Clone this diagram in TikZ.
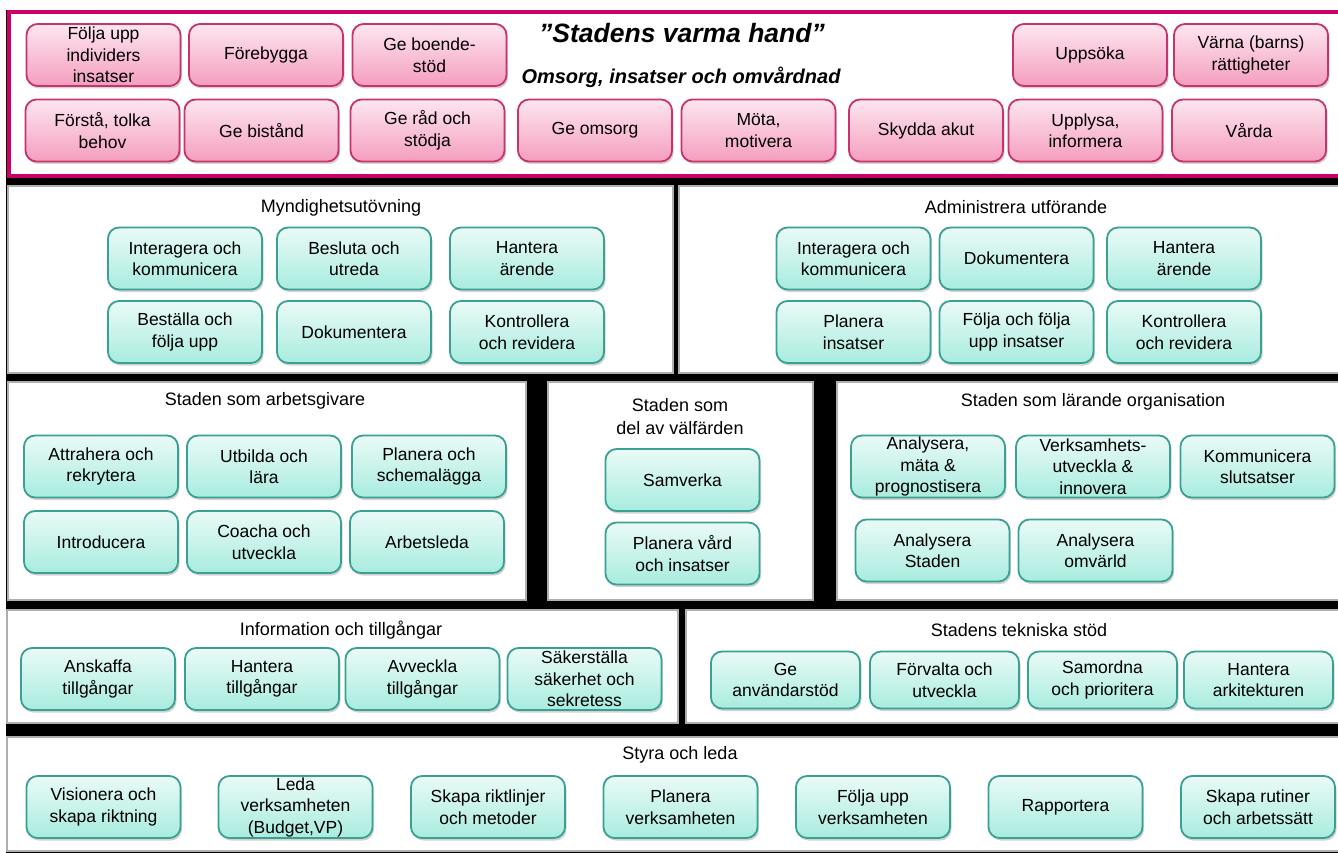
\documentclass[tikz,border=0pt]{standalone}
\usepackage{fontspec}
\setmainfont{Liberation Sans}
\usetikzlibrary{shadows}
\definecolor{stadmagenta}{RGB}{204,0,102}
\definecolor{pinkline}{RGB}{200,50,110}
\definecolor{pinktop}{RGB}{253,230,239}
\definecolor{pinkbot}{RGB}{244,158,190}
\definecolor{tealline}{RGB}{58,160,148}
\definecolor{tealtop}{RGB}{234,250,246}
\definecolor{tealbot}{RGB}{168,236,223}
\definecolor{panelgray}{RGB}{175,175,175}
\newcommand{\boxfont}{\fontsize{17.5}{21.5}\selectfont}
\begin{document}
\begin{tikzpicture}[x=1pt, y=-1pt,
  box/.style={line width=1.8pt, rounded corners=11pt, minimum width=154pt, minimum height=62pt,
    inner sep=0pt, align=center, font=\boxfont,
    drop shadow={shadow xshift=1.5pt, shadow yshift=-2.5pt, opacity=0.35}},
  pinkbox/.style={box, draw=pinkline, top color=pinktop, bottom color=pinkbot},
  tealbox/.style={box, draw=tealline, top color=tealtop, bottom color=tealbot},
  panel/.style={draw=panelgray, line width=2.5pt, fill=white},
  paneltitle/.style={align=center, font=\fontsize{18}{23}\selectfont}]
  \useasboundingbox (0,0) rectangle (1338,853);
  \fill[white] (0,0) rectangle (1338,853);
  \fill[black] (6,10) rectangle (1345,860);
  \draw[draw=stadmagenta, line width=4pt, fill=white] (9,12) rectangle (1350,176);
  \node[font=\fontsize{26.5}{30}\bfseries\itshape\selectfont] (titel) at (682,33) {”Stadens varma hand”};
  \node[font=\fontsize{20}{24}\bfseries\itshape\selectfont] (undertitel) at (681,77) {Omsorg, insatser och omvårdnad};
  \node[pinkbox] (foljaupp) at (103.5,55) {Följa upp\\individers\\insatser};
  \node[pinkbox] (forebygga) at (266,55) {Förebygga};
  \node[pinkbox] (boende) at (429.5,55) {Ge boende-\\stöd};
  \node[pinkbox] (uppsoka) at (1090,55) {Uppsöka};
  \node[pinkbox] (varna) at (1251,55) {Värna (barns)\\rättigheter};
  \node[pinkbox] (forsta) at (102.5,130.5) {Förstå, tolka\\behov};
  \node[pinkbox] (bistand) at (261.5,130.5) {Ge bistånd};
  \node[pinkbox] (rad) at (427.5,130.5) {Ge råd och\\stödja};
  \node[pinkbox] (omsorg) at (595,130.5) {Ge omsorg};
  \node[pinkbox] (mota) at (758.5,130.5) {Möta,\\motivera};
  \node[pinkbox] (skydda) at (926,130.5) {Skydda akut};
  \node[pinkbox] (upplysa) at (1085.5,130.5) {Upplysa,\\informera};
  \node[pinkbox] (varda) at (1249,130.5) {Vårda};

  \draw[panel] (8,186) rectangle (673,373);
  \node[paneltitle] (mynd) at (341,208) {Myndighetsutövning};
  \node[tealbox] (myint) at (185,258.5) {Interagera och\\kommunicera};
  \node[tealbox] (mybes) at (354,258.5) {Besluta och\\utreda};
  \node[tealbox] (myhan) at (527,258.5) {Hantera\\ärende};
  \node[tealbox] (mybest) at (185,332) {Beställa och\\följa upp};
  \node[tealbox] (mydok) at (354,332) {Dokumentera};
  \node[tealbox] (mykon) at (527,332) {Kontrollera\\och revidera};

  \draw[panel] (679,186) rectangle (1350,373);
  \node[paneltitle] (admin) at (1016,207) {Administrera utförande};
  \node[tealbox] (adint) at (853.5,258.5) {Interagera och\\kommunicera};
  \node[tealbox] (addok) at (1016.5,258.5) {Dokumentera};
  \node[tealbox] (adhan) at (1184,258.5) {Hantera\\ärende};
  \node[tealbox] (adpla) at (853.5,332) {Planera\\insatser};
  \node[tealbox] (adfol) at (1016.5,332) {Följa och följa\\upp insatser};
  \node[tealbox] (adkon) at (1184,332) {Kontrollera\\och revidera};

  \draw[panel] (8,382) rectangle (526,600);
  \node[paneltitle] (arbgiv) at (265,401) {Staden som arbetsgivare};
  \node[tealbox] (attr) at (101,466.5) {Attrahera och\\rekrytera};
  \node[tealbox] (utb) at (264,466.5) {Utbilda och\\lära};
  \node[tealbox] (sched) at (429,466.5) {Planera och\\schemalägga};
  \node[tealbox] (intro) at (101,542) {Introducera};
  \node[tealbox] (coach) at (264,542) {Coacha och\\utveckla};
  \node[tealbox] (arbled) at (427,542) {Arbetsleda};

  \draw[panel] (548,382) rectangle (813,600);
  \node[paneltitle] (valfard) at (680,416.5) {Staden som\\del av välfärden};
  \node[tealbox] (samv) at (682.5,480) {Samverka};
  \node[tealbox] (plvard) at (682.5,553.5) {Planera vård\\och insatser};

  \draw[panel] (837,382) rectangle (1350,600);
  \node[paneltitle] (larande) at (1093,402) {Staden som lärande organisation};
  \node[tealbox] (anmata) at (928,466.5) {Analysera,\\mäta \&\\prognostisera};
  \node[tealbox] (vutv) at (1093,466.5) {Verksamhets-\\utveckla \&\\innovera};
  \node[tealbox] (komm) at (1257.5,466.5) {Kommunicera\\slutsatser};
  \node[tealbox] (anstad) at (932.5,550.5) {Analysera\\Staden};
  \node[tealbox] (anomv) at (1095.5,550.5) {Analysera\\omvärld};

  \draw[panel] (7,610) rectangle (678,723);
  \node[paneltitle] (info) at (341,630) {Information och tillgångar};
  \node[tealbox] (anskaffa) at (98,679) {Anskaffa\\tillgångar};
  \node[tealbox] (hantill) at (262,679) {Hantera\\tillgångar};
  \node[tealbox] (avveckla) at (422.5,679) {Avveckla\\tillgångar};
  \node[tealbox] (saker) at (584.5,679) {Säkerställa\\säkerhet och\\sekretess};

  \draw[panel] (686,610) rectangle (1350,723);
  \node[paneltitle] (tekn) at (1019,630) {Stadens tekniska stöd};
  \node[tealbox, minimum width=149pt, minimum height=57pt] (anvstod) at (785.5,680) {Ge\\användarstöd};
  \node[tealbox, minimum width=149pt, minimum height=57pt] (forvalta) at (944.5,680) {Förvalta och\\utveckla};
  \node[tealbox, minimum width=149pt, minimum height=57pt] (samordna) at (1102.5,680) {Samordna\\och prioritera};
  \node[tealbox, minimum width=149pt, minimum height=57pt] (arkitekt) at (1258.5,680) {Hantera\\arkitekturen};

  \draw[panel] (7,737) rectangle (1350,851);
  \node[paneltitle] (styra) at (680,755) {Styra och leda};
  \node[tealbox] (vision) at (103.5,807) {Visionera och\\skapa riktning};
  \node[tealbox] (leda) at (295.5,807) {Leda\\verksamheten\\(Budget,VP)};
  \node[tealbox] (riktl) at (488,807) {Skapa riktlinjer\\och metoder};
  \node[tealbox] (planverk) at (680.5,807) {Planera\\verksamheten};
  \node[tealbox] (foljverk) at (873,807) {Följa upp\\verksamheten};
  \node[tealbox] (rapport) at (1065.5,807) {Rapportera};
  \node[tealbox] (rutiner) at (1258,807) {Skapa rutiner\\och arbetssätt};
\end{tikzpicture}
\end{document}
